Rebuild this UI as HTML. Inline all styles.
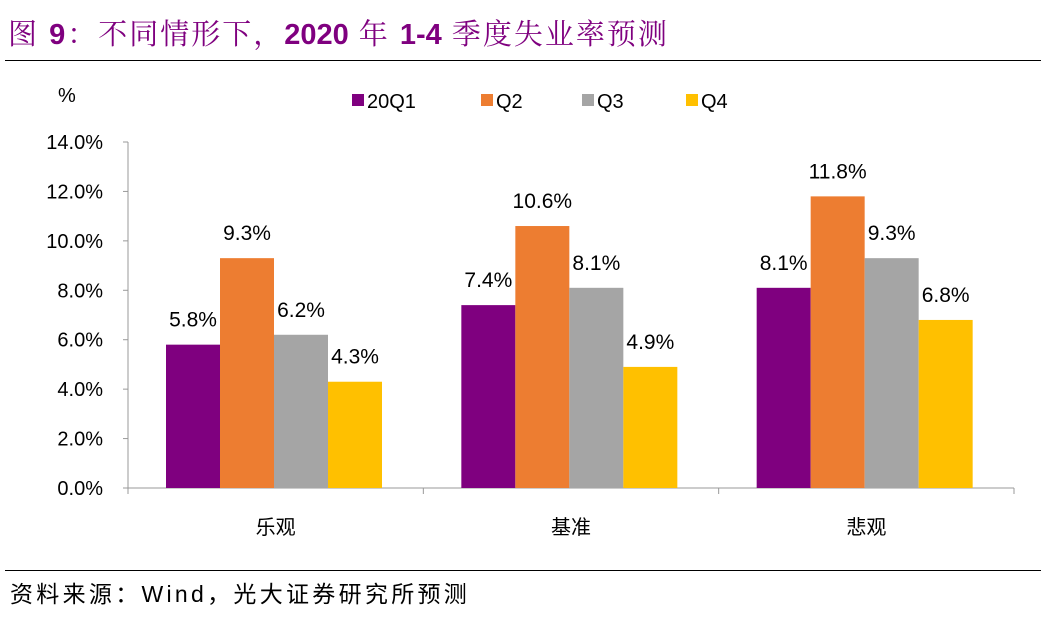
<!DOCTYPE html>
<html><head><meta charset="utf-8"><style>
body{margin:0;background:#fff;width:1041px;height:623px;overflow:hidden;position:relative;font-family:"Liberation Sans","Noto Sans CJK SC",sans-serif}
.t{position:absolute;white-space:nowrap}
</style></head><body>
<div class="t" style="left:8px;top:12px;font-size:29px;letter-spacing:2px;color:#7F007F;font-family:'Liberation Sans','Noto Serif CJK SC',serif">图 <b style="font-family:'Liberation Sans'">9</b>：不同情形下，<b style="font-family:'Liberation Sans';letter-spacing:0px">2020</b> 年 <b style="font-family:'Liberation Sans';letter-spacing:0px">1-4</b> 季度失业率预测</div>
<div style="position:absolute;left:5px;top:60px;width:1036px;height:1px;background:#000"></div>
<div style="position:absolute;left:5px;top:570px;width:1036px;height:1px;background:#000"></div>
<div class="t" style="left:10px;top:575px;font-size:23px;letter-spacing:3.3px;color:#000">资料来源：Wind，光大证券研究所预测</div>
<svg id="c" width="1041" height="623" style="position:absolute;left:0;top:0"></svg>
<script>
const categories=["乐观","基准","悲观"];
const seriesNames=["20Q1","Q2","Q3","Q4"];
const q1=[5.8,7.4,8.1];
const q2=[9.3,10.6,11.8];
const q3=[6.2,8.1,9.3];
const q4=[4.3,4.9,6.8];
const yTicks=[0,2,4,6,8,10,12,14];
const colors=["#7F007F","#ED7D31","#A5A5A5","#FFC000"];
const svg=document.getElementById('c');const NS='http://www.w3.org/2000/svg';
const X0=128,X1=1014,Y0=488,Y1=142;
const y=v=>Y0-(v/14)*(Y0-Y1);
const gw=(X1-X0)/categories.length,bw=54,off=38;
function mk(t,a){const e=document.createElementNS(NS,t);for(const k in a)e.setAttribute(k,a[k]);svg.appendChild(e);return e;}
let ax=mk('line',{x1:X0,y1:Y1,x2:X0,y2:Y0,stroke:'#999'});


let xa=mk('line',{x1:X0,y1:Y0,x2:X1,y2:Y0,stroke:'#999'});


yTicks.forEach(v=>{
 mk('line',{x1:X0-5,y1:y(v),x2:X0,y2:y(v),stroke:'#999'});
 const t=mk('text',{x:103,y:y(v)+7,'text-anchor':'end','font-size':20,fill:'#000'});t.textContent=v.toFixed(1)+'%';
 
 
});
for(let i=0;i<=categories.length;i++)mk('line',{x1:X0+i*gw,y1:Y0,x2:X0+i*gw,y2:Y0+6,stroke:'#999'});
const pu=mk('text',{x:58,y:102,'font-size':20});pu.textContent='%';


const all=[q1,q2,q3,q4];
categories.forEach((c,i)=>{
 const t=mk('text',{x:X0+gw*(i+0.5),y:534,'text-anchor':'middle','font-size':20});t.textContent=c;
 
 
 all.forEach((s,j)=>{
  const bx=X0+i*gw+off+j*bw;
  const r=mk('rect',{x:bx,y:y(s[i]),width:bw,height:Y0-y(s[i]),fill:colors[j]});
  
  
  const l=mk('text',{x:bx+bw/2,y:y(s[i])-18,'text-anchor':'middle','font-size':21});l.textContent=s[i].toFixed(1)+'%';
  
  
 });
});
const lx=[352,481,582,686];
seriesNames.forEach((n,j)=>{
 const r=mk('rect',{x:lx[j],y:94,width:12,height:12,fill:colors[j]});
 
 
 const t=mk('text',{x:lx[j]+15,y:108,'font-size':20});t.textContent=n;
 
 
});
</script>
</body></html>
